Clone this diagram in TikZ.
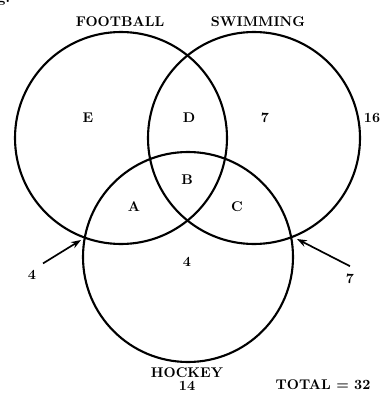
\documentclass[tikz,border=0pt]{standalone}
\usetikzlibrary{arrows.meta,positioning}
\begin{document}
\begin{tikzpicture}[x=0.025cm, y=-0.025cm, font=\bfseries,
	set/.style={line width=1.5pt},
	pointer/.style={line width=1.2pt, -{Stealth[length=7pt,width=5pt]}}]
	\useasboundingbox (0,0) rectangle (383,394);
	% circle centres
	\coordinate (foot) at (121,138);
	\coordinate (swim) at (254,138);
	\coordinate (hock) at (188,257);
	\draw[set] (foot) circle[radius=106];
	\draw[set] (swim) circle[radius=106];
	\draw[set] (hock) circle[radius=105];
	% set names
	\node[inner sep=0pt] (footlbl) at (120,22) {FOOTBALL};
	\node[inner sep=0pt] (swimlbl) at (258,22) {SWIMMING};
	\node[inner sep=0pt] (hocklbl) at (187,373) {HOCKEY};
	\node[below=2pt of hocklbl, inner sep=0pt] (hocknum) {14};
	\node (total) at (323,385) {TOTAL = 32};
	\node[anchor=east] (fig) at (15,-1) {Fig.};
	% regions
	\node (E) at (88,118) {E};
	\node (D) at (189,118) {D};
	\node (swimonly) at (265,118) {7};
	\node (outside) at (372,118) {16};
	\node (B) at (187,180) {B};
	\node (A) at (134,207) {A};
	\node (C) at (237,207) {C};
	\node (hockonly) at (187,262) {4};
	% pointers to the crossings
	\node (left) at (32,275) {4};
	\node (right) at (350,279) {7};
	\coordinate (lefttip) at (81,240);
	\coordinate (righttip) at (297,239);
	\draw[pointer] (left.north east) ++(2,-2) -- (lefttip);
	\draw[pointer] (right.north) ++(0,-3) -- (righttip);
\end{tikzpicture}
\end{document}
